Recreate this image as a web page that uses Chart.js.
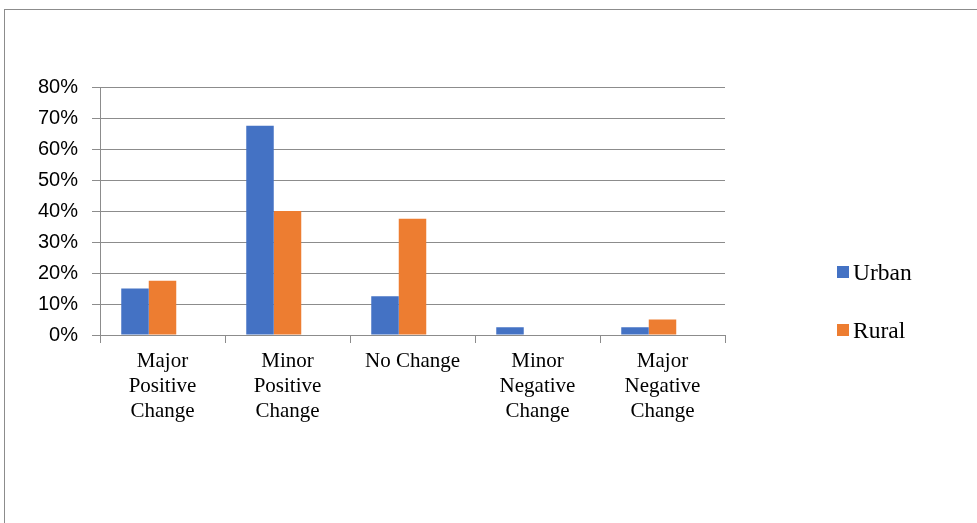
<!DOCTYPE html>
<html>
<head>
<meta charset="utf-8">
<script src="https://cdn.jsdelivr.net/npm/chart.js@4/dist/chart.umd.min.js"></script>
<style>
  html, body { margin: 0; padding: 0; background: #fff; }
  #wrap { position: relative; width: 977px; height: 523px; overflow: hidden; }
  #frame { position: absolute; left: 4px; top: 9px; width: 1000px; height: 600px;
           border-top: 1px solid #8c8c8c; border-left: 1px solid #8c8c8c; box-sizing: border-box; }
  canvas { position: absolute; left: 0; top: 0; }
</style>
</head>
<body>
<div id="wrap">
  <div id="frame"></div>
  <canvas id="chart" width="977" height="523"></canvas>
</div>
<script>
// Share of responses per category of change
const categories = [
  ['Major', 'Positive', 'Change'],
  ['Minor', 'Positive', 'Change'],
  ['No Change'],
  ['Minor', 'Negative', 'Change'],
  ['Major', 'Negative', 'Change']
];
const urban = [0.15, 0.675, 0.125, 0.025, 0.025];
const rural = [0.175, 0.40, 0.375, 0, 0.05];
const seriesNames = ['Urban', 'Rural'];
const seriesColors = ['#4472C4', '#ED7D31'];
const yTicks = [0, 0.1, 0.2, 0.3, 0.4, 0.5, 0.6, 0.7, 0.8];

const gridColor = '#8c8c8c';

// Legend on the right, drawn as stacked square swatches
const sideLegend = {
  id: 'sideLegend',
  afterDraw(chart) {
    const ctx = chart.ctx;
    ctx.save();
    ctx.font = '23.5px "Liberation Serif", "Times New Roman", serif';
    ctx.textBaseline = 'alphabetic';
    ctx.textAlign = 'left';
    const rows = [280, 338];
    chart.data.datasets.forEach((ds, i) => {
      if (!ds.label) return;
      const base = rows[i];
      ctx.fillStyle = ds.backgroundColor;
      ctx.fillRect(837, base - 14, 12, 12);
      ctx.fillStyle = '#000';
      ctx.fillText(ds.label, 853, base);
    });
    ctx.restore();
  }
};

new Chart(document.getElementById('chart'), {
  type: 'bar',
  data: {
    labels: categories,
    datasets: [
      { label: seriesNames[0], data: urban, backgroundColor: seriesColors[0] },
      { label: seriesNames[1], data: rural, backgroundColor: seriesColors[1] },
      // empty third slot keeps the Excel-style group spacing
      { label: '', data: categories.map(() => null), backgroundColor: 'rgba(0,0,0,0)' }
    ]
  },
  options: {
    responsive: false,
    animation: false,
    events: [],
    layout: { padding: { left: 0, top: 87, right: 252, bottom: 88 } },
    datasets: { bar: { categoryPercentage: 0.66, barPercentage: 1.0 } },
    plugins: {
      legend: { display: false },
      tooltip: { enabled: false },
      title: { display: false }
    },
    scales: {
      x: {
        offset: true,
        grid: {
          display: true,
          offset: true,
          drawOnChartArea: false,
          drawTicks: true,
          tickLength: 8,
          color: gridColor,
          lineWidth: 1
        },
        border: { display: true, color: gridColor, width: 1 },
        ticks: {
          color: '#000',
          padding: 6,
          maxRotation: 0,
          autoSkip: false,
          font: { family: '"Liberation Serif", "Times New Roman", serif', size: 21, lineHeight: 1.19 }
        },
        afterFit(scale) { scale.height = 100; }
      },
      y: {
        min: 0,
        max: 0.8,
        afterBuildTicks(scale) { scale.ticks = yTicks.map(v => ({ value: v })); },
        grid: {
          color: gridColor,
          lineWidth: 1,
          drawTicks: true,
          tickLength: 8
        },
        border: { display: true, color: gridColor, width: 1 },
        ticks: {
          color: '#000',
          padding: 14,
          font: { family: '"Liberation Sans", Arial, sans-serif', size: 20 },
          callback: v => Math.round(v * 100) + '%'
        },
        afterFit(scale) { scale.width = 100; }
      }
    }
  },
  plugins: [sideLegend]
});
</script>
</body>
</html>
